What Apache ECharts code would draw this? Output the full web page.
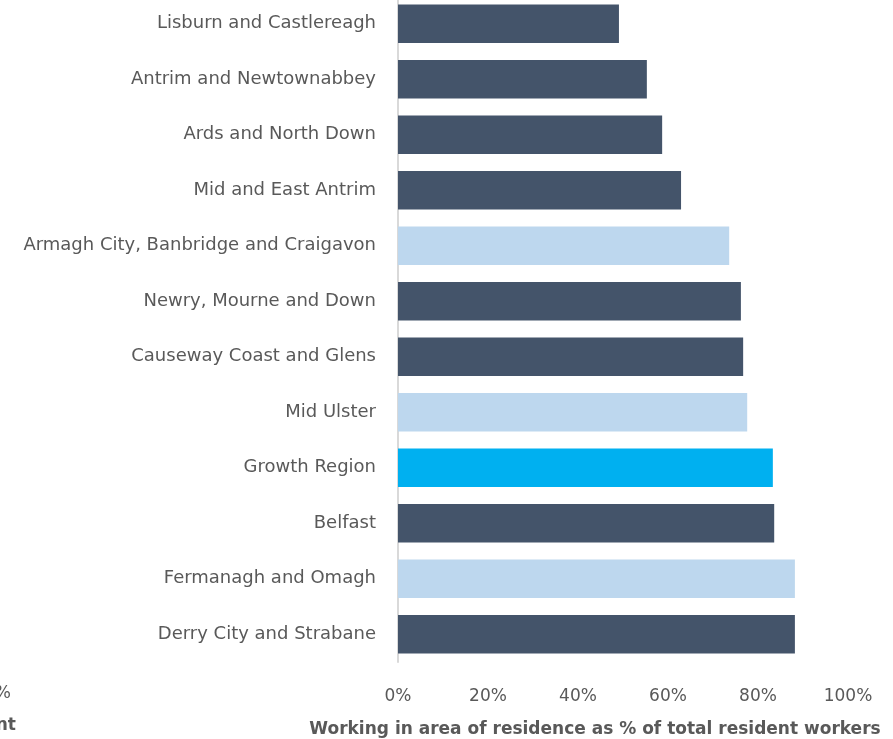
<!DOCTYPE html>
<html>
<head>
<meta charset="utf-8">
<script src="https://cdn.jsdelivr.net/npm/echarts@6/dist/echarts.min.js"></script>
<style>
  html, body { margin: 0; padding: 0; background: #fff; overflow: hidden; }
  #chart { position: absolute; left: 0; top: -4px; width: 893px; height: 743px; }
</style>
</head>
<body>
<div id="chart"></div>
<script>
var regions = ['Lisburn and Castlereagh', 'Antrim and Newtownabbey', 'Ards and North Down',
  'Mid and East Antrim', 'Armagh City, Banbridge and Craigavon', 'Newry, Mourne and Down',
  'Causeway Coast and Glens', 'Mid Ulster', 'Growth Region', 'Belfast',
  'Fermanagh and Omagh', 'Derry City and Strabane'];
var workInArea = [49.1, 55.3, 58.7, 62.9, 73.6, 76.2, 76.7, 77.6, 83.3, 83.6, 88.2, 88.2];
// which colour each bar gets: 0 dark, 1 light, 2 highlight
var barGroup = [0, 0, 0, 0, 1, 0, 0, 1, 2, 0, 1, 0];
var groupColors = ['#44546A', '#BDD7EE', '#00B0F0'];
var tickLabels = ['0%', '20%', '40%', '60%', '80%', '100%'];

var myChart = echarts.init(document.getElementById('chart'));

var option = {
  animation: false,
  textStyle: { fontFamily: 'DejaVu Sans' },
  grid: { left: 398, right: 45, top: 0, height: 666, outerBoundsMode: 'none', containLabel: false },
  xAxis: {
    type: 'value',
    min: 0, max: 100, interval: 20,
    splitLine: { show: false },
    axisLine: { show: false },
    axisTick: { show: false },
    axisLabel: {
      color: '#595959', fontSize: 17, margin: 26,
      formatter: function (v) { return tickLabels[v / 20]; }
    },
    name: 'Working in area of residence as % of total resident workers',
    nameLocation: 'middle',
    nameGap: 59,
    nameTextStyle: { color: '#595959', fontSize: 17, fontWeight: 'bold', padding: [0, 56, 0, 0] }
  },
  yAxis: {
    type: 'category',
    inverse: true,
    data: regions,
    axisLine: { show: true, lineStyle: { color: '#D9D9D9', width: 2 } },
    axisTick: { show: false },
    axisLabel: { color: '#595959', fontSize: 18, margin: 22 }
  },
  graphic: [
    { type: 'text', right: 882, top: 689, style: { text: '100%', fill: '#595959', font: '17px "DejaVu Sans"', textAlign: 'right' } },
    { type: 'text', right: 877, top: 721, style: { text: 'Employment', fill: '#595959', font: 'bold 17px "DejaVu Sans"', textAlign: 'right' } }
  ],
  series: [{
    type: 'bar',
    barCategoryGap: '31%',
    data: workInArea.map(function (v, i) {
      return { value: v, itemStyle: { color: groupColors[barGroup[i]] } };
    })
  }]
};

myChart.setOption(option);
</script>
</body>
</html>
